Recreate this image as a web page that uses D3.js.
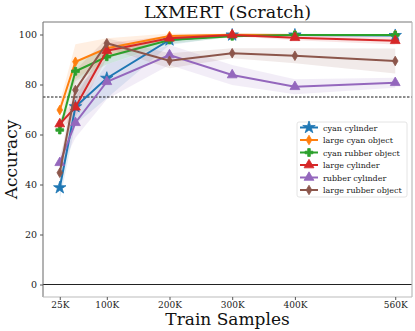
<!DOCTYPE html>
<html><head><meta charset="utf-8">
<script src="https://cdn.jsdelivr.net/npm/d3@7"></script>
<style>body{margin:0;background:#fff}svg{display:block}</style>
</head><body><svg id="c" width="415" height="331"></svg>
<script>
const samples = [25, 50, 100, 200, 300, 400, 560];
const tickValues = [25, 100, 200, 300, 400, 560];
const tickLabels = ["25K", "100K", "200K", "300K", "400K", "560K"];
const yTicks = [0, 20, 40, 60, 80, 100];
const seriesNames = ["cyan cylinder", "large cyan object", "cyan rubber object", "large cylinder", "rubber cylinder", "large rubber object"];
const seriesColors = ["#1f77b4", "#ff7f0e", "#2ca02c", "#d62728", "#9467bd", "#8c564b"];
const seriesMarkers = ["star", "thin_diamond", "plus", "triangle", "triangle", "thin_diamond"];
const cyanCylinder = [38.7, 71.1, 82.5, 97.8, 99.8, 99.8, 99.6];
const largeCyanObject = [69.8, 89.1, 94.5, 99.4, 99.9, 99.8, 99.8];
const cyanRubberObject = [61.8, 85.3, 91.1, 97.8, 99.3, 99.8, 99.8];
const largeCylinder = [64.2, 70.9, 93.5, 98.5, 99.8, 98.7, 97.5];
const rubberCylinder = [48.7, 64.7, 81.1, 91.8, 83.8, 79.1, 80.7];
const largeRubberObject = [44.7, 77.8, 96.5, 89.5, 92.5, 91.5, 89.4];
const cyanCylinderSd = [5, 7, 8, 2, 0.5, 0.5, 0.5];
const largeCyanObjectSd = [3, 7, 4, 1, 0.4, 0.4, 0.4];
const cyanRubberObjectSd = [2, 4, 3, 1.5, 0.4, 0.4, 0.4];
const largeCylinderSd = [2, 4, 3, 1, 0.5, 1, 1.5];
const rubberCylinderSd = [3, 6, 7, 4, 4, 3, 2];
const largeRubberObjectSd = [3, 8, 2, 3, 2, 3, 5];
const thresholdLine = 75;

const means = [cyanCylinder, largeCyanObject, cyanRubberObject, largeCylinder, rubberCylinder, largeRubberObject];
const sds = [cyanCylinderSd, largeCyanObjectSd, cyanRubberObjectSd, largeCylinderSd, rubberCylinderSd, largeRubberObjectSd];

const svg = d3.select("#c");
const L = 43, R = 412, T = 22, B = 297;
const x = d3.scaleLinear().domain([25 - 26.75, 560 + 26.75]).range([L, R]);
const y = d3.scaleLinear().domain([-5, 105]).range([B, T]);
const serif = "'DejaVu Serif', serif";

// bands
means.forEach((m, i) => {
  const area = d3.area().x((d, j) => x(samples[j]))
    .y0((d, j) => y(Math.max(0, m[j] - sds[i][j])))
    .y1((d, j) => y(Math.min(100.5, m[j] + sds[i][j])));
  svg.append("path").attr("d", area(m)).attr("fill", seriesColors[i]).attr("fill-opacity", 0.12).attr("stroke", "none");
});

// reference lines
svg.append("line").attr("x1", L).attr("x2", R).attr("y1", y(thresholdLine)).attr("y2", y(thresholdLine))
  .attr("stroke", "#000").attr("stroke-width", 0.9).attr("stroke-dasharray", "2.5,1.5");
svg.append("line").attr("x1", L).attr("x2", R).attr("y1", y(0)).attr("y2", y(0))
  .attr("stroke", "#222").attr("stroke-width", 1.1);

function markerPath(type) {
  if (type === "star") return d3.symbol(d3.symbolStar, 48)();
  if (type === "triangle") return d3.symbol(d3.symbolTriangle, 42)();
  if (type === "plus") return d3.symbol(d3.symbolCross, 34)();
  if (type === "thin_diamond") return "M0,-4.8L2.8,0L0,4.8L-2.8,0Z";
}

means.forEach((m, i) => {
  const line = d3.line().x((d, j) => x(samples[j])).y(d => y(d));
  svg.append("path").attr("d", line(m)).attr("fill", "none").attr("stroke", seriesColors[i]).attr("stroke-width", 2);
  svg.selectAll(null).data(m).enter().append("path")
    .attr("d", markerPath(seriesMarkers[i]))
    .attr("transform", (d, j) => `translate(${x(samples[j])},${y(d)})`)
    .attr("fill", seriesColors[i]).attr("stroke", seriesColors[i]).attr("stroke-width", 0.8);
});

// frame
svg.append("line").attr("x1", L).attr("x2", L).attr("y1", T).attr("y2", B).attr("stroke", "#666").attr("stroke-width", 1);
svg.append("line").attr("x1", L).attr("x2", R).attr("y1", T).attr("y2", T).attr("stroke", "#777").attr("stroke-width", 1);
svg.append("line").attr("x1", R).attr("x2", R).attr("y1", T).attr("y2", B).attr("stroke", "#bbb").attr("stroke-width", 1.2);
svg.append("line").attr("x1", L).attr("x2", R).attr("y1", B).attr("y2", B).attr("stroke", "#bbb").attr("stroke-width", 1.2);

// axes
const yAxis = d3.axisLeft(y).tickValues(yTicks).tickSize(3).tickPadding(3);
const gy = svg.append("g").attr("transform", `translate(${L},0)`).call(yAxis);
gy.select(".domain").remove();
gy.selectAll("line").attr("stroke", "#555");
gy.selectAll("text").attr("font-family", serif).attr("font-size", 9.5).attr("fill", "#222");

const xAxis = d3.axisBottom(x).tickValues(tickValues).tickFormat((d, i) => tickLabels[i]).tickSize(3).tickPadding(1.5);
const gx = svg.append("g").attr("transform", `translate(0,${B})`).call(xAxis);
gx.select(".domain").remove();
gx.selectAll("line").attr("stroke", "#555");
gx.selectAll("text").attr("font-family", serif).attr("font-size", 9).attr("fill", "#222");

// titles
svg.append("text").attr("x", (L + R) / 2).attr("y", 18).attr("text-anchor", "middle")
  .attr("font-family", serif).attr("font-size", 17.5).attr("fill", "#111").text("LXMERT (Scratch)");
svg.append("text").attr("x", (L + R) / 2).attr("y", 325).attr("text-anchor", "middle")
  .attr("font-family", serif).attr("font-size", 17).attr("fill", "#111").text("Train Samples");
svg.append("text").attr("transform", `translate(17,${(T + B) / 2}) rotate(-90)`).attr("text-anchor", "middle")
  .attr("font-family", serif).attr("font-size", 17).attr("fill", "#111").text("Accuracy");

// legend
const lg = svg.append("g").attr("transform", "translate(297,122)");
lg.append("rect").attr("width", 110).attr("height", 75).attr("rx", 2)
  .attr("fill", "#fff").attr("fill-opacity", 0.85).attr("stroke", "#ddd").attr("stroke-width", 0.8);
seriesNames.forEach((n, i) => {
  const yy = 5.5 + i * 12.5;
  lg.append("line").attr("x1", 3).attr("x2", 21).attr("y1", yy).attr("y2", yy).attr("stroke", seriesColors[i]).attr("stroke-width", 2);
  lg.append("path").attr("d", markerPath(seriesMarkers[i])).attr("transform", `translate(12,${yy})`)
    .attr("fill", seriesColors[i]).attr("stroke", seriesColors[i]).attr("stroke-width", 0.8);
  lg.append("text").attr("x", 26).attr("y", yy + 3).attr("font-family", serif).attr("font-size", 8)
    .attr("fill", "#222").text(n);
});
</script></body></html>
